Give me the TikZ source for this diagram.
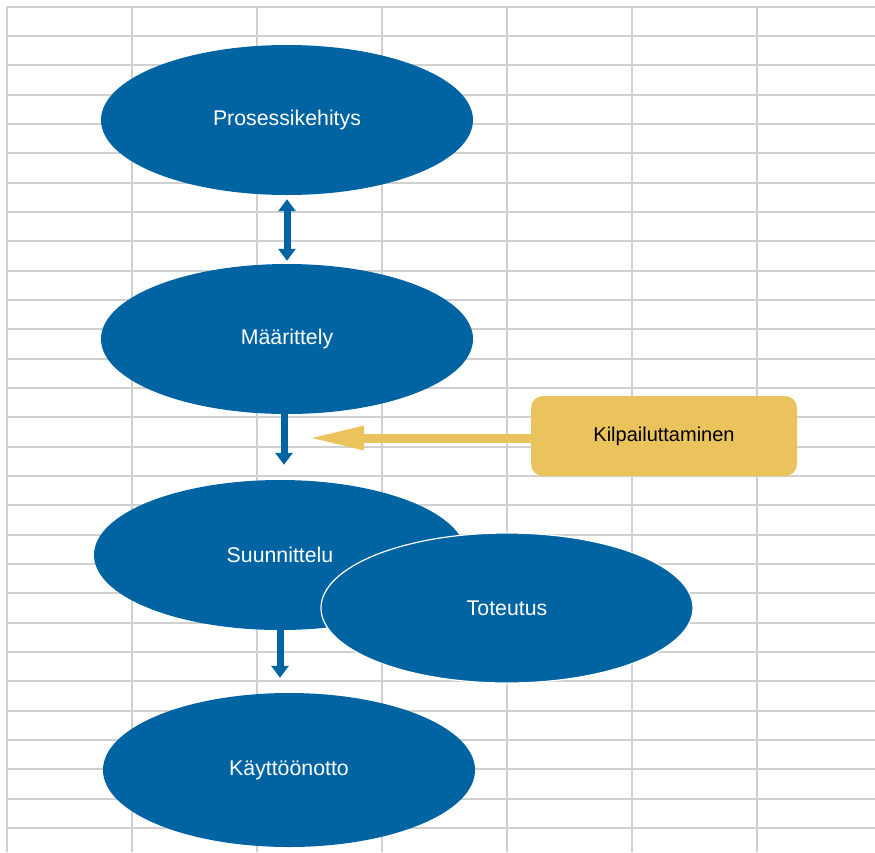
\documentclass[tikz,border=0pt]{standalone}
\usepackage{fontspec}
\setmainfont{Liberation Sans}
\usetikzlibrary{shapes.geometric,arrows.meta}
\definecolor{stageblue}{RGB}{0,99,162}
\definecolor{gridgray}{RGB}{208,208,208}
\definecolor{bidyellow}{RGB}{235,195,92}
\tikzset{
  stage/.style={ellipse, fill=stageblue, text=white, minimum width=372pt,
    minimum height=150pt, inner sep=0pt, font=\fontsize{21.3}{25}\selectfont},
  flow/.style={draw=stageblue, line width=7pt,
    -{Triangle[length=12pt,width=17pt]}},
  bidbox/.style={rectangle, rounded corners=12pt, fill=bidyellow,
    minimum width=266pt, minimum height=80pt, inner sep=0pt,
    font=\fontsize{20}{24}\selectfont},
  bidarrow/.style={draw=bidyellow, line width=9pt,
    -{Triangle[length=56pt,width=22pt]}},
  gridline/.style={draw=gridgray, line width=2pt}
}
\begin{document}
\begin{tikzpicture}[x=1pt,y=-1pt]
\useasboundingbox (0,0) rectangle (875,852);
% spreadsheet grid in the background
\foreach \k in {0,...,28}
  \draw[gridline] (6.7,{6.7+29.33*\k}) -- (875,{6.7+29.33*\k});
\foreach \k in {0,...,6}
  \draw[gridline] ({6.7+125*\k},6.7) -- ({6.7+125*\k},852);
% process stages
\node[stage] (p) at (287,120) {Prosessikehitys};
\node[stage] (m) at (287,339) {Määrittely};
\node[stage] (s) at (280,555) {Suunnittelu};
\node[stage, draw=white, line width=1.2pt] (t) at (507,608) {Toteutus};
\node[stage, minimum height=154pt] (k) at (289,770) {Käyttöönotto};
% tendering box
\node[bidbox] (b) at (664,436) {Kilpailuttaminen};
\coordinate (tip) at (308,438);
% connectors
\draw[flow, {Triangle[length=12pt,width=17pt]}-{Triangle[length=12pt,width=17pt]},
  shorten <=4pt, shorten >=3pt] (p.south) -- (m.north);
\draw[flow, shorten >=15pt] ([xshift=-3pt]m.south) -- ([xshift=-3pt]m.south |- s.north);
\draw[flow, shorten >=15pt] (s.south) -- (s.south |- k.north);
\draw[bidarrow] (b.west |- tip) -- (tip);
\end{tikzpicture}
\end{document}
